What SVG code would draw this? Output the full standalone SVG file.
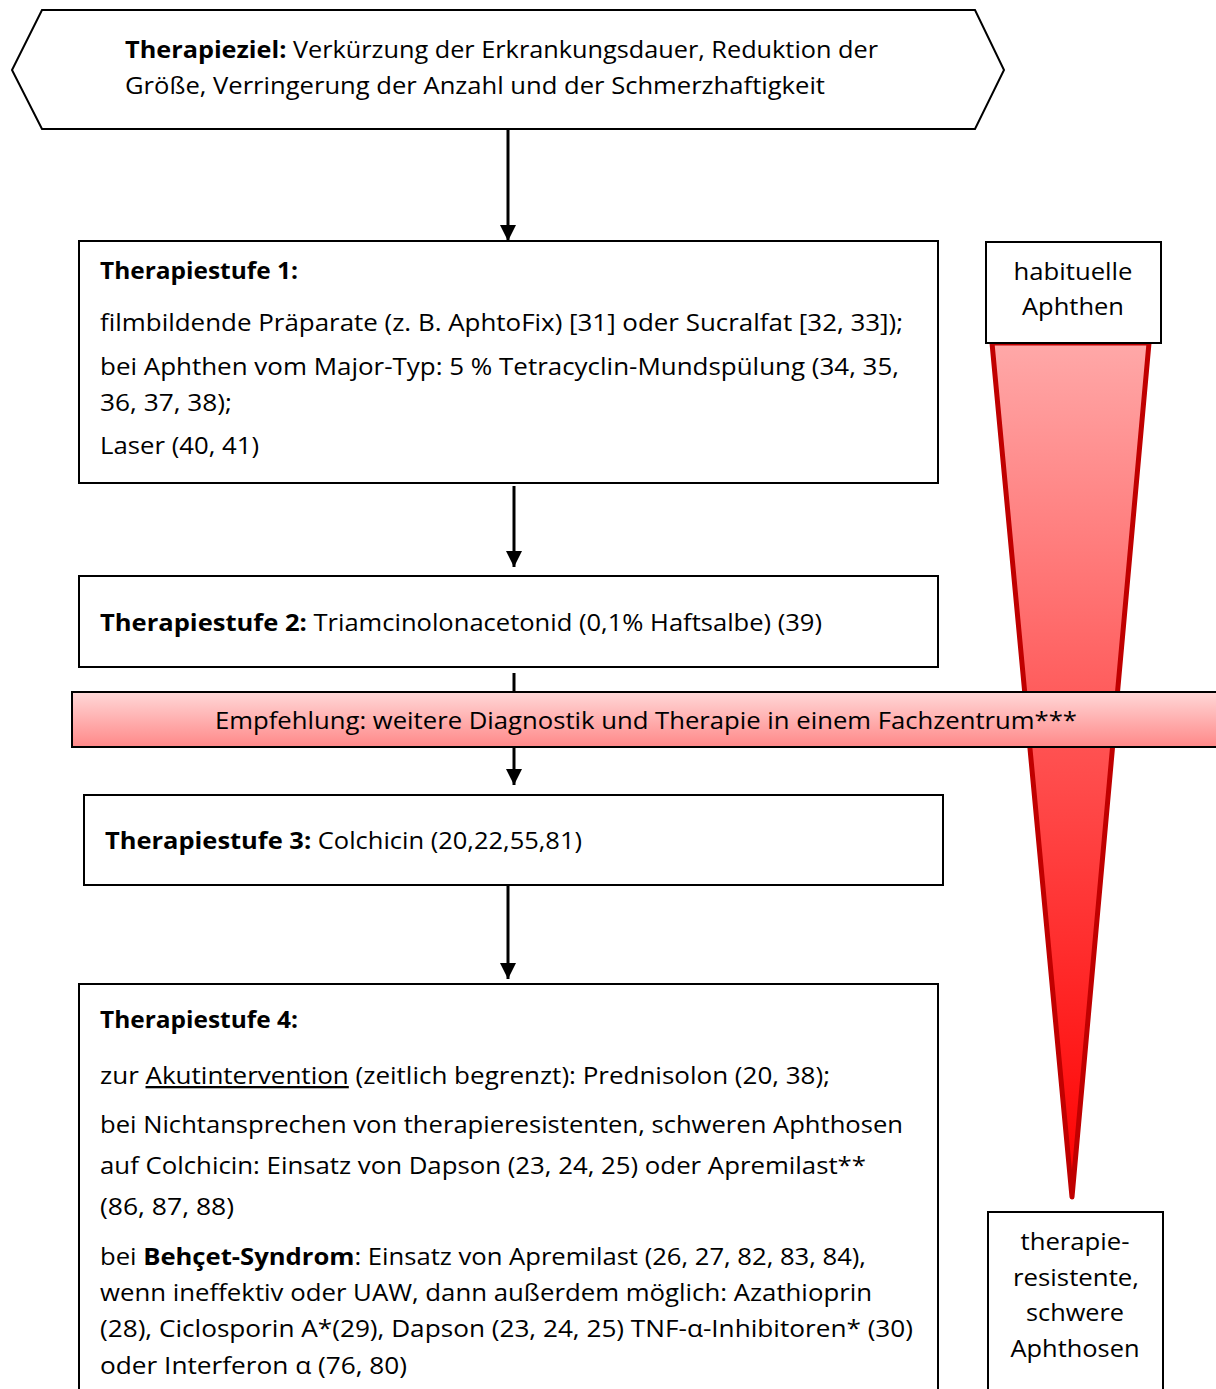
<svg xmlns="http://www.w3.org/2000/svg" width="1216" height="1389" viewBox="0 0 1216 1389">
<style>
text{font-family:"Open Sans","Noto Sans","Liberation Sans",sans-serif;font-size:23px;fill:#000}
.b{font-weight:bold}
.box{fill:#fff;stroke:#000;stroke-width:2}
.con{stroke:#000;stroke-width:3;fill:none}
.c{text-anchor:middle}
</style>
<defs>
<marker id="ah" markerUnits="userSpaceOnUse" markerWidth="16" markerHeight="16" refX="16" refY="8" orient="auto">
<path d="M0,0 L16,8 L0,16 z" fill="#000"/>
</marker>
<linearGradient id="tri" x1="0" y1="0" x2="0" y2="1">
<stop offset="0" stop-color="#ffa8a8"/>
<stop offset="0.45" stop-color="#ff5555"/>
<stop offset="1" stop-color="#ff0000"/>
</linearGradient>
<linearGradient id="ban" x1="0" y1="0" x2="0" y2="1">
<stop offset="0" stop-color="#ffd8d8"/>
<stop offset="1" stop-color="#ff8888"/>
</linearGradient>
</defs>

<g id="severity-wedge">
<polygon points="992,343 1149,343 1072,1197" fill="url(#tri)" stroke="#c00000" stroke-width="5" stroke-linejoin="round"/>
</g>

<g id="connectors">
<line class="con" x1="508" y1="129" x2="508" y2="241" marker-end="url(#ah)"/>
<line class="con" x1="514" y1="486" x2="514" y2="567" marker-end="url(#ah)"/>
<line class="con" x1="514" y1="673" x2="514" y2="693"/>
<line class="con" x1="514" y1="747" x2="514" y2="785" marker-end="url(#ah)"/>
<line class="con" x1="508" y1="886" x2="508" y2="979" marker-end="url(#ah)"/>
</g>

<g id="goal">
<polygon points="42,10 975,10 1004,70 975,129 42,129 12,70" class="box"/>
<text x="125" y="58" textLength="753" lengthAdjust="spacingAndGlyphs"><tspan class="b">Therapieziel:</tspan> Verkürzung der Erkrankungsdauer, Reduktion der</text>
<text x="125" y="94" textLength="700" lengthAdjust="spacingAndGlyphs">Größe, Verringerung der Anzahl und der Schmerzhaftigkeit</text>
</g>

<g id="stufe1">
<rect x="79" y="241" width="859" height="242" class="box"/>
<text x="100" y="279" class="b" textLength="198" lengthAdjust="spacingAndGlyphs">Therapiestufe 1:</text>
<text x="100" y="331" textLength="803" lengthAdjust="spacingAndGlyphs">filmbildende Präparate (z. B. AphtoFix) [31] oder Sucralfat [32, 33]);</text>
<text x="100" y="375" textLength="799" lengthAdjust="spacingAndGlyphs">bei Aphthen vom Major-Typ: 5 % Tetracyclin-Mundspülung (34, 35,</text>
<text x="100" y="411" textLength="132" lengthAdjust="spacingAndGlyphs">36, 37, 38);</text>
<text x="100" y="454" textLength="159" lengthAdjust="spacingAndGlyphs">Laser (40, 41)</text>
</g>

<g id="stufe2">
<rect x="79" y="576" width="859" height="91" class="box"/>
<text x="100" y="631" textLength="722" lengthAdjust="spacingAndGlyphs"><tspan class="b">Therapiestufe 2:</tspan> Triamcinolonacetonid (0,1% Haftsalbe) (39)</text>
</g>

<g id="empfehlung">
<rect x="72" y="692" width="1160" height="55" fill="url(#ban)" stroke="#000" stroke-width="2"/>
<text x="215" y="729" textLength="862" lengthAdjust="spacingAndGlyphs">Empfehlung: weitere Diagnostik und Therapie in einem Fachzentrum***</text>
</g>

<g id="stufe3">
<rect x="84" y="795" width="859" height="90" class="box"/>
<text x="105" y="849" textLength="477" lengthAdjust="spacingAndGlyphs"><tspan class="b">Therapiestufe 3:</tspan> Colchicin (20,22,55,81)</text>
</g>

<g id="stufe4">
<rect x="79" y="984" width="859" height="420" class="box"/>
<text x="100" y="1028" class="b" textLength="198" lengthAdjust="spacingAndGlyphs">Therapiestufe 4:</text>
<text x="100" y="1084" textLength="730" lengthAdjust="spacingAndGlyphs">zur <tspan text-decoration="underline">Akutintervention</tspan> (zeitlich begrenzt): Prednisolon (20, 38);</text>
<text x="100" y="1133" textLength="803" lengthAdjust="spacingAndGlyphs">bei Nichtansprechen von therapieresistenten, schweren Aphthosen</text>
<text x="100" y="1174" textLength="766" lengthAdjust="spacingAndGlyphs">auf Colchicin: Einsatz von Dapson (23, 24, 25) oder Apremilast**</text>
<text x="100" y="1215" textLength="134" lengthAdjust="spacingAndGlyphs">(86, 87, 88)</text>
<text x="100" y="1265" textLength="766" lengthAdjust="spacingAndGlyphs">bei <tspan class="b">Behçet-Syndrom</tspan>: Einsatz von Apremilast (26, 27, 82, 83, 84),</text>
<text x="100" y="1301" textLength="772" lengthAdjust="spacingAndGlyphs">wenn ineffektiv oder UAW, dann außerdem möglich: Azathioprin</text>
<text x="100" y="1337" textLength="813" lengthAdjust="spacingAndGlyphs">(28), Ciclosporin A*(29), Dapson (23, 24, 25) TNF-α-Inhibitoren* (30)</text>
<text x="100" y="1374" textLength="307" lengthAdjust="spacingAndGlyphs">oder Interferon α (76, 80)</text>
</g>

<g id="habituell">
<rect x="986" y="242" width="175" height="101" class="box"/>
<text x="1073" y="280" class="c" textLength="119" lengthAdjust="spacingAndGlyphs">habituelle</text>
<text x="1073" y="315" class="c" textLength="102" lengthAdjust="spacingAndGlyphs">Aphthen</text>
</g>

<g id="resistent">
<rect x="988" y="1212" width="175" height="190" class="box"/>
<text x="1075" y="1250" class="c" textLength="109" lengthAdjust="spacingAndGlyphs">therapie-</text>
<text x="1076" y="1286" class="c" textLength="126" lengthAdjust="spacingAndGlyphs">resistente,</text>
<text x="1075" y="1321" class="c" textLength="98" lengthAdjust="spacingAndGlyphs">schwere</text>
<text x="1075" y="1357" class="c" textLength="129" lengthAdjust="spacingAndGlyphs">Aphthosen</text>
</g>
</svg>
